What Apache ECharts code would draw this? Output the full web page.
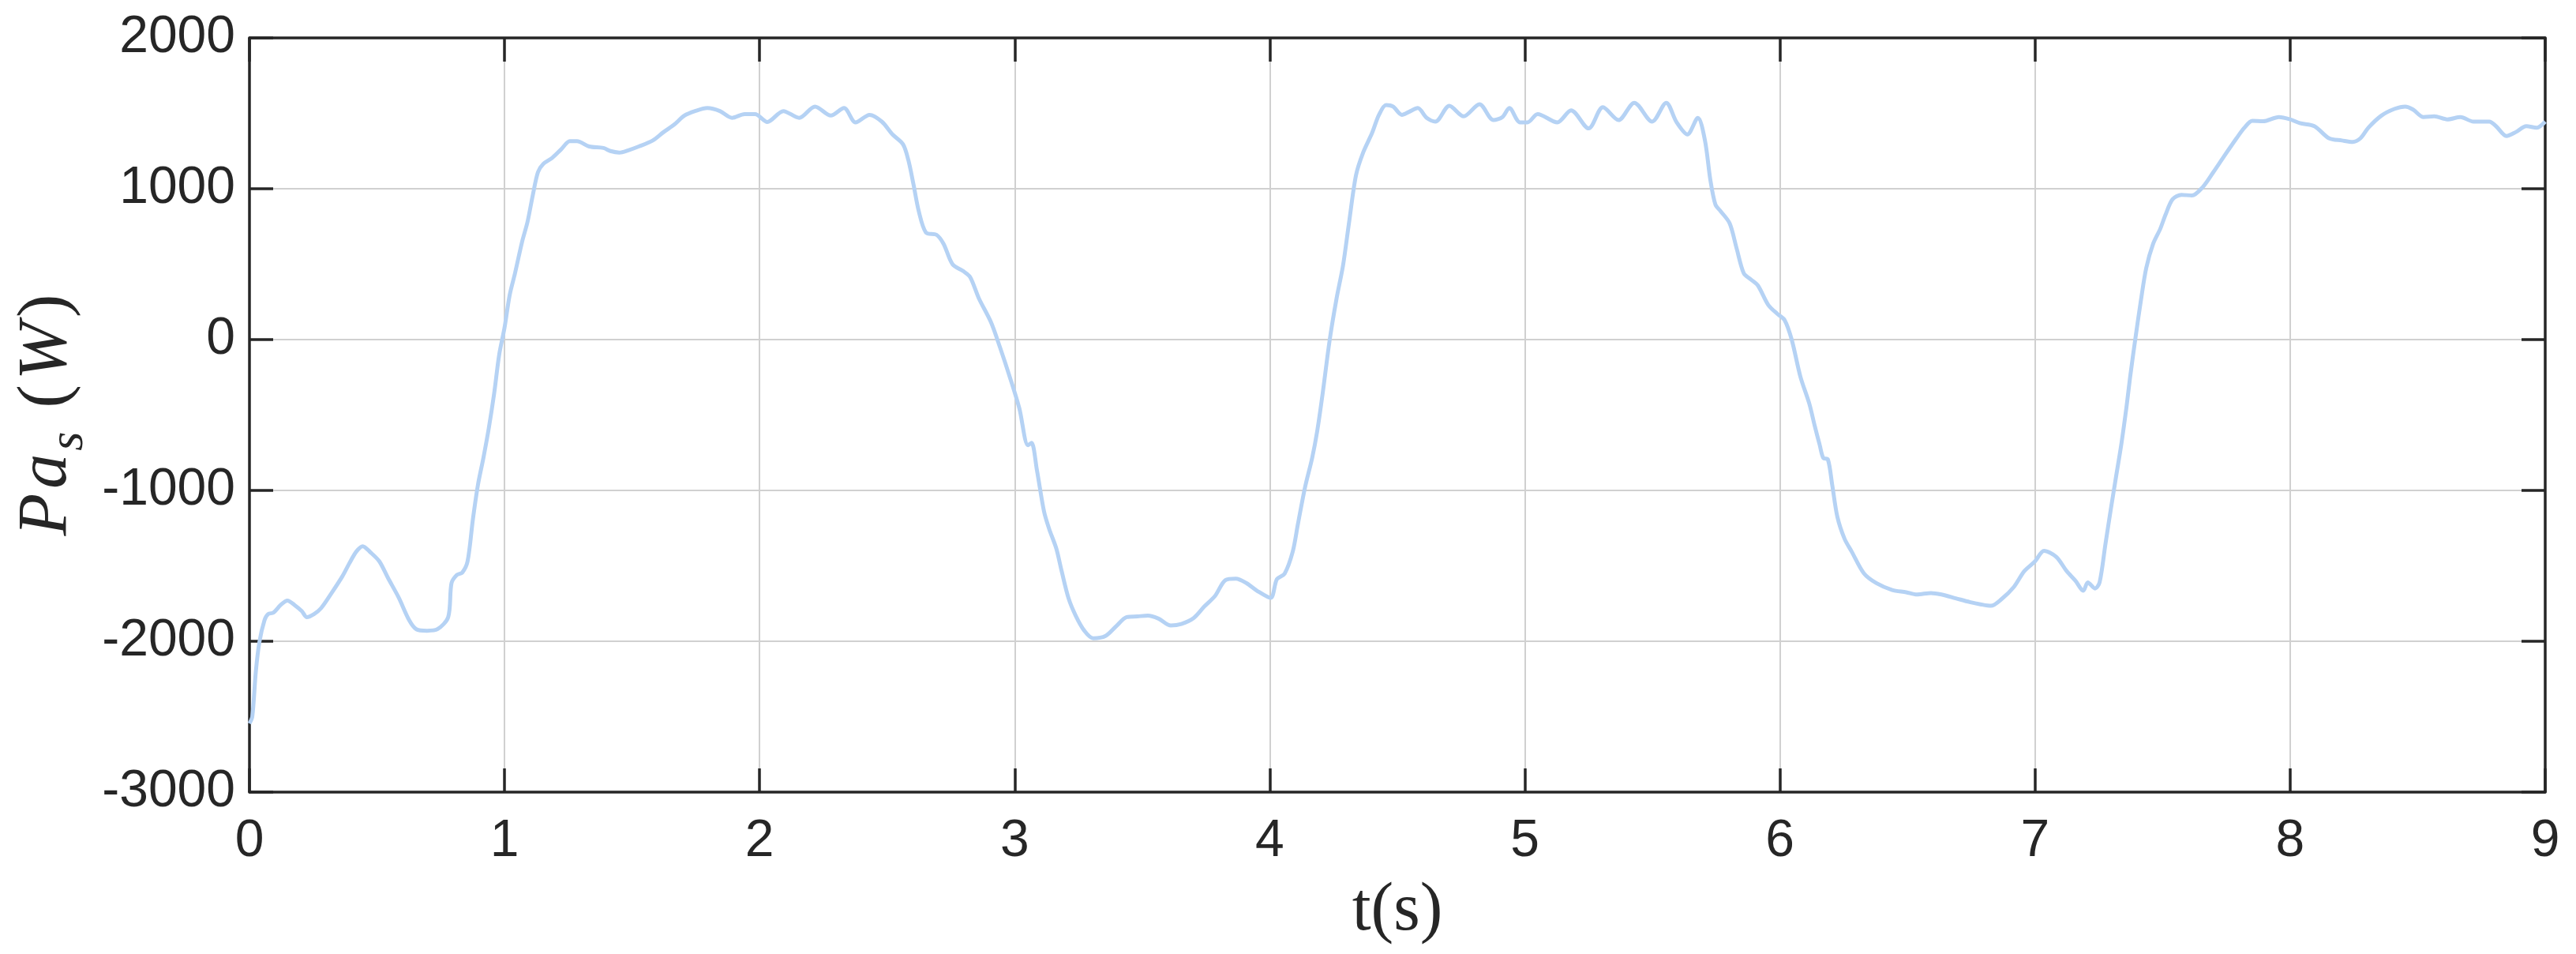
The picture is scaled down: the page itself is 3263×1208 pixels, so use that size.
<!DOCTYPE html>
<html>
<head>
<meta charset="utf-8">
<script src="https://cdn.jsdelivr.net/npm/echarts@6/dist/echarts.min.js"></script>
<style>
html,body{margin:0;padding:0;background:#fff;}
#chart{width:3263px;height:1208px;}
</style>
</head>
<body>
<div id="chart"></div>
<script>
// time (s)
const timeS = [
0.000,0.011,0.025,0.039,0.059,0.073,0.094,0.122,0.149,0.177,0.205,0.225,0.253,0.281,0.322,0.364,0.391,0.419,0.444,0.474,
0.509,0.543,0.585,0.626,0.654,0.696,0.737,0.779,0.792,0.813,0.834,0.855,0.876,0.896,0.917,0.938,0.959,0.979,1.000,1.020,
1.041,1.069,1.090,1.111,1.131,1.152,1.187,1.221,1.256,1.284,1.332,1.388,1.415,1.450,1.485,1.526,1.581,1.623,1.665,1.705,
1.747,1.795,1.844,1.892,1.941,1.982,2.030,2.093,2.155,2.217,2.279,2.331,2.376,2.431,2.479,2.521,2.562,2.583,2.603,2.624,
2.652,2.693,2.721,2.756,2.797,2.825,2.859,2.907,2.942,2.983,3.018,3.052,3.066,3.087,3.115,3.135,3.163,3.184,3.211,3.239,
3.273,3.308,3.356,3.398,3.439,3.481,3.522,3.564,3.612,3.653,3.702,3.743,3.785,3.826,3.867,3.909,3.950,4.003,4.028,4.058,
4.090,4.110,4.138,4.166,4.186,4.207,4.235,4.262,4.287,4.311,4.338,4.366,4.401,4.428,4.456,4.483,4.518,4.546,4.580,4.615,
4.649,4.704,4.760,4.822,4.877,4.912,4.939,4.981,5.010,5.050,5.127,5.181,5.250,5.306,5.367,5.429,5.499,5.554,5.595,5.637,
5.678,5.706,5.727,5.747,5.768,5.803,5.830,5.858,5.885,5.913,5.954,5.990,6.018,6.046,6.080,6.115,6.136,6.156,6.170,6.188,
6.205,6.225,6.253,6.281,6.329,6.378,6.440,6.495,6.537,6.592,6.633,6.689,6.744,6.786,6.827,6.869,6.917,6.958,7.000,7.035,
7.083,7.124,7.159,7.189,7.207,7.235,7.253,7.276,7.297,7.317,7.339,7.359,7.373,7.394,7.415,7.436,7.463,7.491,7.512,7.539,
7.574,7.615,7.657,7.699,7.739,7.790,7.821,7.852,7.894,7.956,8.000,8.038,8.095,8.152,8.203,8.245,8.276,8.307,8.358,8.410,
8.451,8.482,8.523,8.565,8.616,8.668,8.719,8.781,8.807,8.848,8.884,8.926,8.967,9.000
];
// Pa_s (W)
const powerW = [
-2545,-2500,-2200,-2005,-1860,-1820,-1810,-1760,-1730,-1760,-1800,-1840,-1820,-1780,-1680,-1570,-1485,-1405,-1370,-1410,
-1470,-1580,-1710,-1860,-1920,-1930,-1920,-1840,-1615,-1560,-1545,-1470,-1190,-960,-785,-590,-360,-100,80,295,
440,650,780,960,1110,1165,1205,1260,1315,1315,1280,1270,1250,1240,1255,1280,1320,1375,1425,1485,
1515,1535,1515,1470,1495,1495,1443,1515,1470,1545,1485,1535,1440,1490,1445,1360,1295,1190,1030,850,
710,695,635,500,455,415,275,115,-50,-260,-455,-700,-685,-865,-1140,-1255,-1385,-1535,-1715,-1830,
-1930,-1980,-1965,-1900,-1840,-1835,-1830,-1850,-1895,-1885,-1845,-1770,-1700,-1595,-1585,-1615,-1665,-1712,-1588,-1552,
-1405,-1225,-980,-785,-605,-360,0,275,490,780,1090,1240,1370,1490,1555,1545,1490,1510,1535,1470,
1445,1550,1480,1560,1455,1475,1535,1440,1440,1495,1440,1520,1400,1540,1455,1570,1445,1570,1440,1360,
1470,1320,1060,895,850,770,605,440,400,360,230,170,130,0,-245,-425,-570,-700,-785,-795,
-965,-1175,-1320,-1405,-1550,-1615,-1660,-1675,-1690,-1680,-1690,-1715,-1740,-1755,-1765,-1720,-1640,-1535,-1470,-1400,
-1440,-1535,-1600,-1665,-1610,-1650,-1610,-1355,-1125,-915,-685,-440,-245,15,260,475,635,735,830,930,
960,955,1010,1110,1210,1335,1405,1450,1447,1475,1460,1435,1415,1335,1320,1310,1335,1405,1485,1530,
1545,1525,1475,1480,1460,1475,1445,1445,1415,1350,1375,1415,1405,1445
];
const xTicks = [0,1,2,3,4,5,6,7,8,9];
const yTicks = [-3000,-2000,-1000,0,1000,2000];

const axisColor = '#262626';
const gridColor = '#d0d0d0';
const seriesData = timeS.map((t, i) => [t, powerW[i]]);

const chart = echarts.init(document.getElementById('chart'), null, {renderer: 'canvas'});
const tickStyle = {show: true, inside: true, length: 30, lineStyle: {color: axisColor, width: 3.5}};
const lineStyle = {show: true, onZero: false, lineStyle: {color: axisColor, width: 3.5}};
const labelFont = 'Liberation Sans, Arial, Helvetica, sans-serif';
const serif = 'Liberation Serif, Times New Roman, serif';
chart.setOption({
  animation: false,
  backgroundColor: '#ffffff',
  grid: {left: 316, right: 39, top: 48, bottom: 205, containLabel: false},
  xAxis: [{
    type: 'value', min: xTicks[0], max: xTicks[xTicks.length - 1], interval: 1,
    position: 'bottom',
    axisLine: lineStyle, axisTick: tickStyle,
    axisLabel: {color: axisColor, fontSize: 66, fontFamily: labelFont, margin: 30, formatter: v => String(v)},
    splitLine: {show: true, lineStyle: {color: gridColor, width: 2}},
    name: 't(s)', nameLocation: 'middle', nameGap: 108,
    nameTextStyle: {color: axisColor, fontSize: 86, fontFamily: serif}
  }, {
    type: 'value', min: xTicks[0], max: xTicks[xTicks.length - 1], interval: 1,
    position: 'top',
    axisLine: lineStyle, axisTick: tickStyle, axisLabel: {show: false}, splitLine: {show: false}
  }],
  yAxis: [{
    type: 'value', min: yTicks[0], max: yTicks[yTicks.length - 1], interval: 1000,
    position: 'left',
    axisLine: lineStyle, axisTick: tickStyle,
    axisLabel: {color: axisColor, fontSize: 66, fontFamily: labelFont, margin: 18, formatter: v => String(v)},
    splitLine: {show: true, lineStyle: {color: gridColor, width: 2}},
    name: '{p|P}{i|a}{sub|s}{l|(}{w|W}{n|)}', nameLocation: 'middle', nameGap: 174,
    nameTextStyle: {
      color: axisColor, fontSize: 88, fontFamily: serif,
      rich: {
        p: {fontSize: 88, fontStyle: 'italic', fontFamily: serif, color: axisColor, lineHeight: 94, verticalAlign: 'top', padding: [0, 6, 0, 0]},
        i: {fontSize: 88, fontStyle: 'italic', fontFamily: serif, color: axisColor, lineHeight: 94, verticalAlign: 'top', padding: [0, 2, 0, 0]},
        w: {fontSize: 88, fontStyle: 'italic', fontFamily: serif, color: axisColor, lineHeight: 94, verticalAlign: 'top', padding: [0, 6, 0, 6]},
        l: {fontSize: 88, fontFamily: serif, color: axisColor, lineHeight: 94, verticalAlign: 'top', padding: [0, 0, 0, 30]},
        n: {fontSize: 88, fontFamily: serif, color: axisColor, lineHeight: 94, verticalAlign: 'top'},
        sub: {fontSize: 62, fontStyle: 'italic', fontFamily: serif, color: axisColor, lineHeight: 62, verticalAlign: 'top', padding: [40, 0, 0, 2]}
      }
    }
  }, {
    type: 'value', min: yTicks[0], max: yTicks[yTicks.length - 1], interval: 1000,
    position: 'right',
    axisLine: lineStyle, axisTick: tickStyle, axisLabel: {show: false}, splitLine: {show: false}
  }],
  series: [{
    type: 'line', data: seriesData, xAxisIndex: 0, yAxisIndex: 0,
    showSymbol: false, smooth: 0.3,
    lineStyle: {color: '#b5d2f4', width: 5}
  }]
});
</script>
</body>
</html>
